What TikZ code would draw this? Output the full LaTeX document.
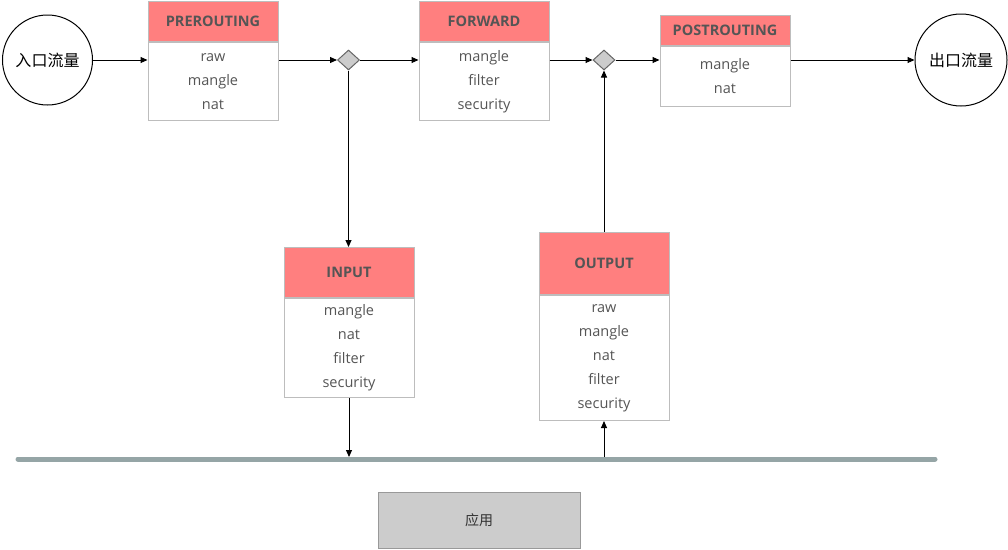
\documentclass[tikz,border=0pt]{standalone}
\usepackage{fontspec}
\setmainfont{Open Sans}
\newfontfamily\cjk{Noto Sans CJK SC}
\usepackage{xcolor}
\usetikzlibrary{arrows.meta,shapes.geometric}
\definecolor{hdred}{HTML}{FF7F7F}
\definecolor{boxline}{HTML}{BDBDBD}
\definecolor{txtgray}{HTML}{555555}
\definecolor{busgray}{HTML}{95A5A6}
\definecolor{appgray}{HTML}{CCCCCC}

\tikzset{
  chainhead/.style={draw=boxline, fill=hdred, line width=1pt, minimum width=130pt, inner sep=0pt,
    text=txtgray, font=\fontsize{14.5}{16}\selectfont\bfseries, anchor=north},
  chainbody/.style={draw=boxline, fill=white, line width=1pt, minimum width=130pt, inner sep=0pt,
    text=txtgray, align=center, font=\fontsize{14.5}{24}\selectfont, anchor=north},
  traffic/.style={circle, draw, line width=1pt, inner sep=0pt, font=\cjk\fontsize{16}{18}\selectfont},
  junction/.style={diamond, draw=black!60, fill=appgray, line width=1pt, minimum width=22pt,
    minimum height=20pt, inner sep=0pt},
  link/.style={-{Triangle[length=7pt,width=6pt]}, line width=1pt}
}

\begin{document}
\begin{tikzpicture}[x=1pt,y=-1pt]
\useasboundingbox (0,0) rectangle (1008,549);

% ingress / egress
\node [traffic, minimum size=90pt] (in) at (47.5,60) {入口流量};
\node [traffic, minimum size=92pt] (out) at (961,60) {出口流量};

% chains
\node [chainhead, minimum height=40pt] (prh) at (213,1) {PREROUTING};
\node [chainbody, minimum height=78pt] (prb) at (prh.south) {raw\\mangle\\nat};
\node [chainhead, minimum height=40pt] (fwh) at (484,1) {FORWARD};
\node [chainbody, minimum height=78pt] (fwb) at (fwh.south) {mangle\\filter\\security};
\node [chainhead, minimum height=30pt] (poh) at (725,15) {POSTROUTING};
\node [chainbody, minimum height=60pt] (pob) at (poh.south) {mangle\\nat};
\node [chainhead, minimum height=50pt] (inh) at (349,247) {INPUT};
\node [chainbody, minimum height=99pt] (inb) at (inh.south) {mangle\\nat\\filter\\security};
\node [chainhead, minimum height=62pt] (outh) at (604,232) {OUTPUT};
\node [chainbody, minimum height=125pt] (outb) at (outh.south) {raw\\mangle\\nat\\filter\\security};

% routing decisions
\node [junction] (j1) at (348.5,60) {};
\node [junction] (j2) at (604,60) {};

% application bus
\coordinate (busL) at (18,459);
\coordinate (busR) at (935,459);
\draw [busgray, line width=5pt, line cap=round] (busL) -- (busR);
\coordinate (busT) at (18,457);
\node [draw=black!40, fill=appgray, line width=1pt, minimum width=202pt, minimum height=56pt,
  font=\cjk\fontsize{14}{16}\selectfont, text=black!80] (app) at (479,520) {应用};

% connectors
\draw [link] (in.east) -- (in.east -| prb.west);
\draw [link] (prb.east |- j1) -- (j1.west);
\draw [link] (j1.east) -- (j1 -| fwb.west);
\draw [link] (fwb.east |- j2) -- (j2.west);
\draw [link] (j2.east) -- (j2 -| pob.west);
\draw [link] (pob.east |- out) -- (out.west);
\draw [link] (j1.south) -- (j1.south |- inh.north);
\draw [link] (inb.south) -- (inb.south |- busT);
\draw [link] (outb.south |- busT) -- (outb.south);
\draw [link] (outh.north) -- (j2.south);
\end{tikzpicture}
\end{document}
